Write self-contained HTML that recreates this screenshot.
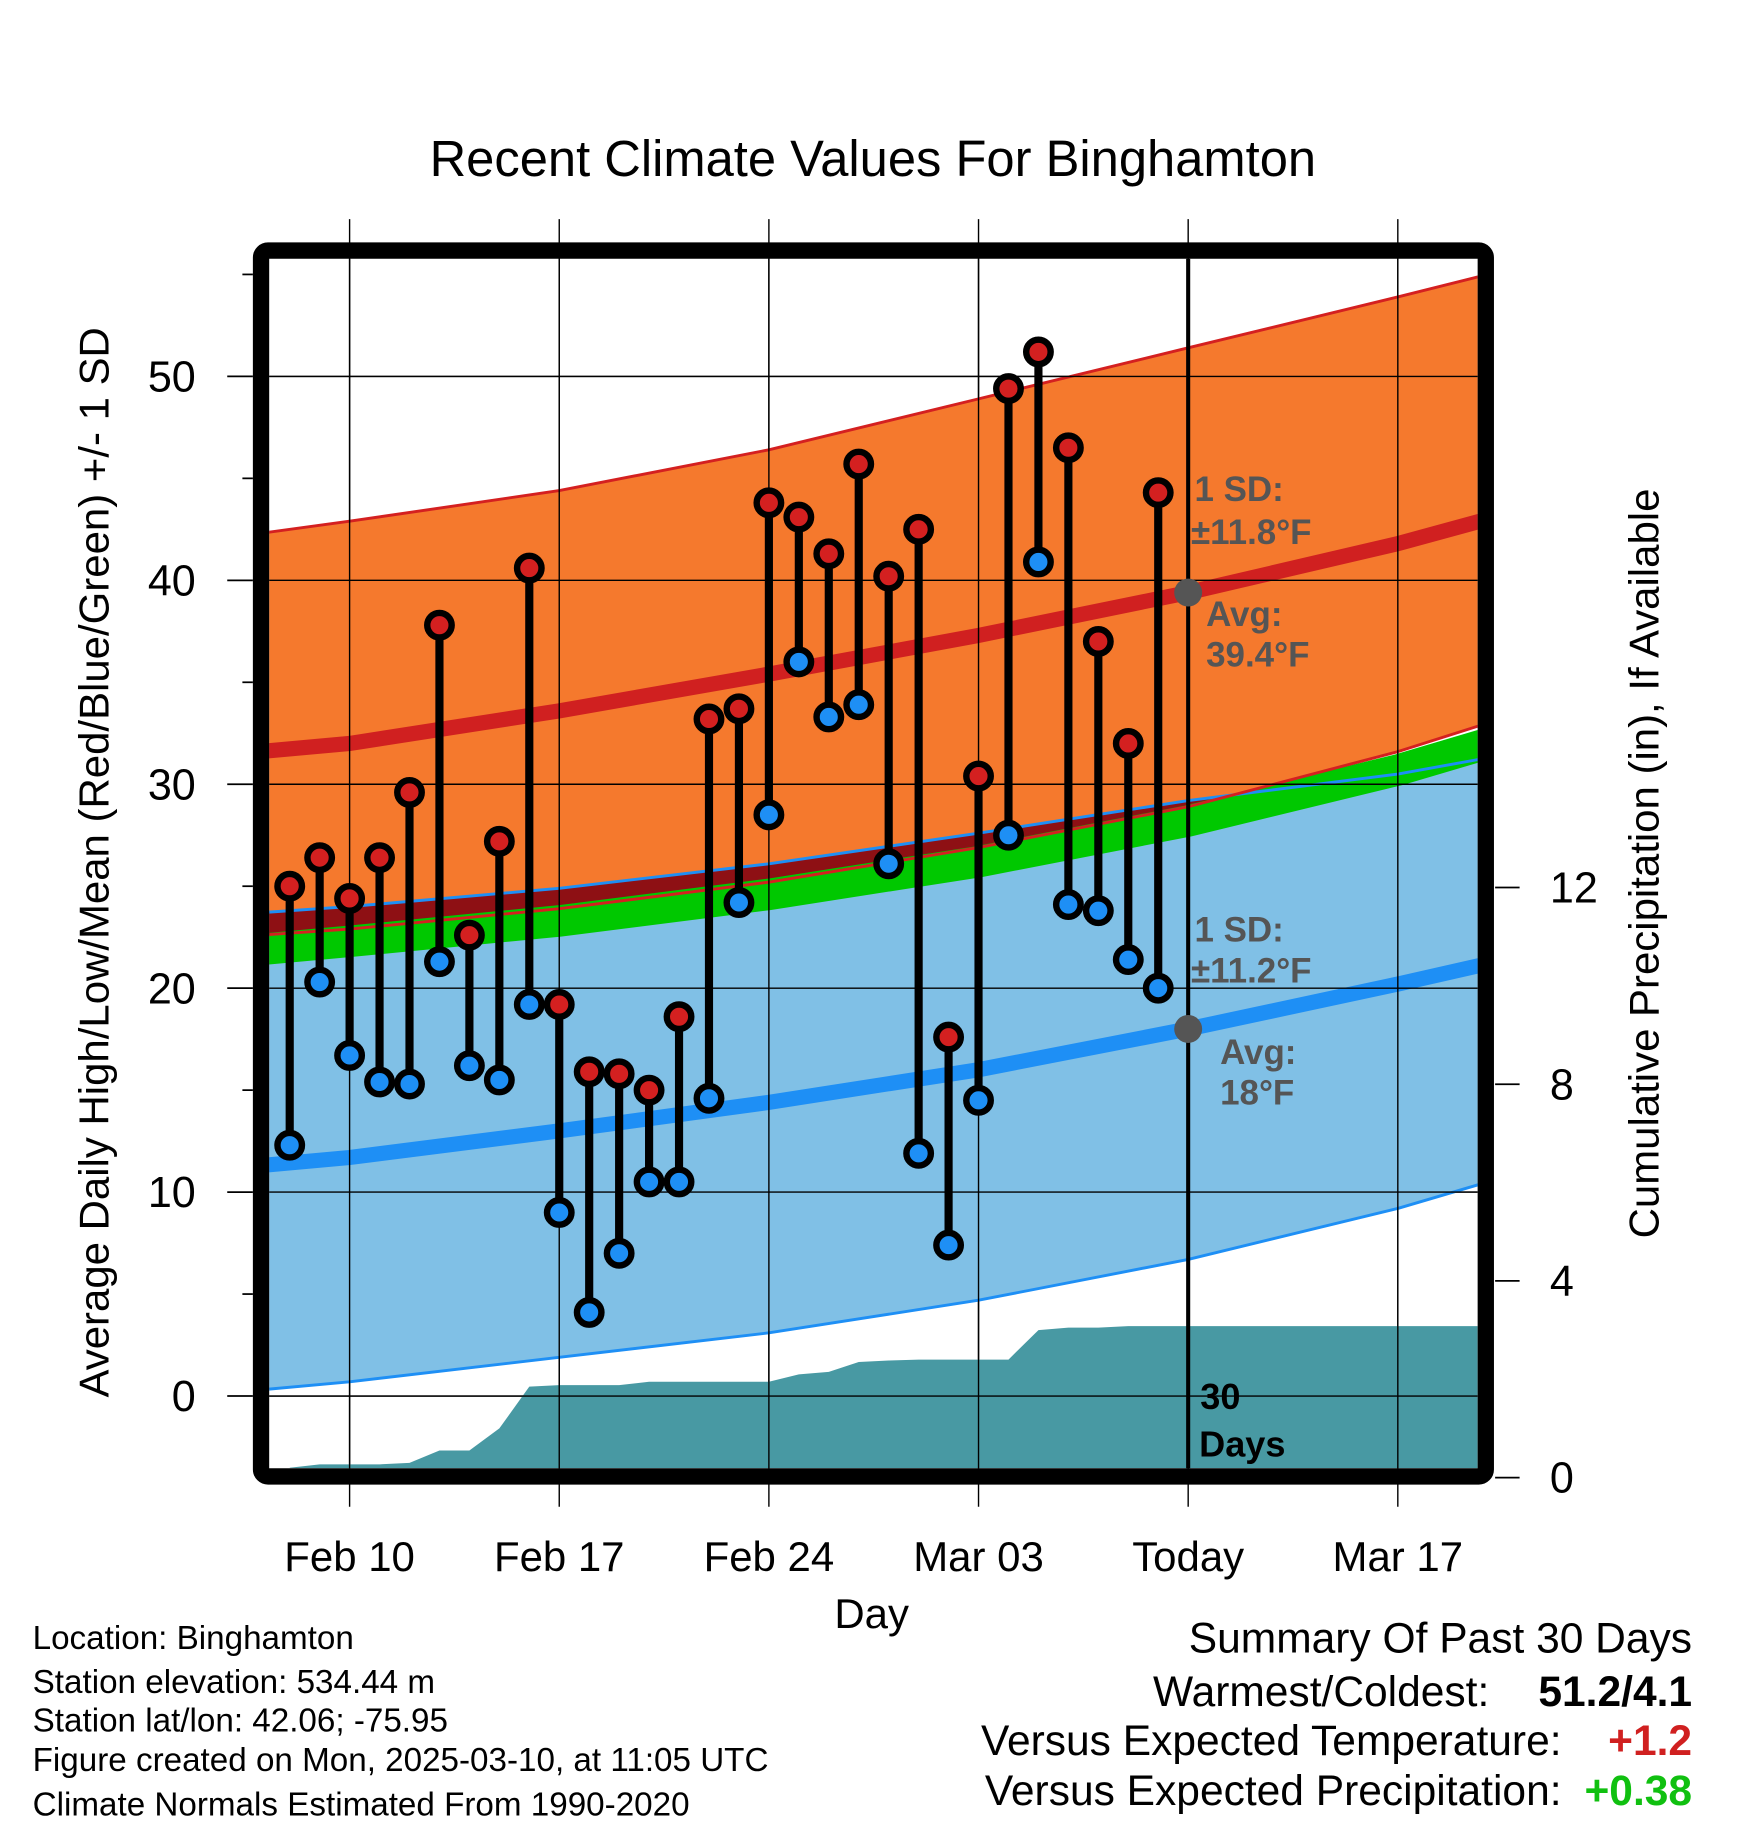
<!DOCTYPE html>
<html><head><meta charset="utf-8"><style>
html,body{margin:0;padding:0;background:#fff;}
svg{display:block;font-family:"Liberation Sans",Arial,sans-serif;}
</style></head><body>
<svg id="chart" width="1748" height="1828" viewBox="0 0 1500 1568.7" preserveAspectRatio="none" xmlns="http://www.w3.org/2000/svg">
<defs><clipPath id="plotclip"><rect x="231" y="222" width="1037" height="1038"/></clipPath></defs>
<text x="749" y="151" font-size="43.5" text-anchor="middle">Recent Climate Values For Binghamton</text>
<g id="grid"></g>
<g id="bands" clip-path="url(#plotclip)"></g>
<g id="marks"></g>
<g id="axes"></g>
<text transform="translate(93,740) rotate(-90)" font-size="36" text-anchor="middle">Average Daily High/Low/Mean (Red/Blue/Green) +/- 1 SD</text>
<text transform="translate(1423,741) rotate(-90)" font-size="36" text-anchor="middle">Cumulative Precipitation (in), If Available</text>
<text x="748" y="1397" font-size="36" text-anchor="middle">Day</text>
<g font-size="28.5">
<text x="28" y="1415">Location: Binghamton</text>
<text x="28" y="1453">Station elevation: 534.44 m</text>
<text x="28" y="1486">Station lat/lon: 42.06; -75.95</text>
<text x="28" y="1520">Figure created on Mon, 2025-03-10, at 11:05 UTC</text>
<text x="28" y="1558">Climate Normals Estimated From 1990-2020</text>
</g>
<g font-size="36.5">
<text x="1452" y="1418" text-anchor="end">Summary Of Past 30 Days</text>
<text x="1278" y="1464" text-anchor="end">Warmest/Coldest:</text>
<text x="1452" y="1464" text-anchor="end" font-weight="bold">51.2/4.1</text>
<text x="1340" y="1506" text-anchor="end">Versus Expected Temperature:</text>
<text x="1452" y="1506" text-anchor="end" font-weight="bold" fill="#d02020">+1.2</text>
<text x="1340" y="1549" text-anchor="end">Versus Expected Precipitation:</text>
<text x="1452" y="1549" text-anchor="end" font-weight="bold" fill="#10c010">+0.38</text>
</g>
</svg>
<script>
// days relative to Feb 10
const normDays = [-3, 0, 7, 14, 21, 28, 35, 38];
const highMean = [31.6, 32.0, 33.6, 35.4, 37.3, 39.4, 41.8, 43.0];
const highUpper = [42.3, 42.9, 44.4, 46.4, 48.9, 51.4, 53.9, 55.0];
const highLower = [22.6, 22.9, 23.9, 25.2, 26.9, 28.9, 31.6, 33.0];
const lowMean = [11.3, 11.7, 13.0, 14.4, 16.0, 18.0, 20.2, 21.2];
const lowUpper = [23.7, 24.0, 24.9, 26.1, 27.6, 29.2, 30.5, 31.3];
const lowLower = [0.3, 0.7, 1.9, 3.1, 4.7, 6.7, 9.2, 10.5];
const meanLine = [21.9, 22.3, 23.3, 24.6, 26.2, 28.2, 30.7, 32.0];
const obsDays = [-2,-1,0,1,2,3,4,5,6,7,8,9,10,11,12,13,14,15,16,17,18,19,20,21,22,23,24,25,26,27];
const obsHigh = [25,26.4,24.4,26.4,29.6,37.8,22.6,27.2,40.6,19.2,15.9,15.8,15.0,18.6,33.2,33.7,43.8,43.1,41.3,45.7,40.2,42.5,17.6,30.4,49.4,51.2,46.5,37.0,32.0,44.3];
const obsLow = [12.3,20.3,16.7,15.4,15.3,21.3,16.2,15.5,19.2,9.0,4.1,7.0,10.5,10.5,14.6,24.2,28.5,36.0,33.3,33.9,26.1,11.9,7.4,14.5,27.5,40.9,24.1,23.8,21.4,20.0];
const precip = [0.2,0.27,0.27,0.27,0.3,0.55,0.55,1.0,1.85,1.88,1.88,1.88,1.95,1.95,1.95,1.95,1.95,2.1,2.15,2.35,2.38,2.4,2.4,2.4,2.4,3.0,3.05,3.05,3.08,3.08];
const xTickDays = [0,7,14,21,28,35];
const xTickLabels = ["Feb 10","Feb 17","Feb 24","Mar 03","Today","Mar 17"];
const yTicks = [0,10,20,30,40,50];
const y2Ticks = [0,4,8,12];
const todayDay = 28;

const NS="http://www.w3.org/2000/svg";
const X0=231,X1=1268,Y0=222,Y1=1260;
const xs=d=>300+25.7*d;
const ys=v=>1198-17.5*v;
const yp=p=>1268-42.2*p;
function mk(tag,attrs,parent){const e=document.createElementNS(NS,tag);for(const k in attrs)e.setAttribute(k,attrs[k]);parent.appendChild(e);return e;}
function pts(arr){return normDays.map((d,i)=>xs(d).toFixed(1)+","+ys(arr[i]).toFixed(1));}
const grid=document.getElementById('grid'),bands=document.getElementById('bands'),marks=document.getElementById('marks'),axes=document.getElementById('axes');

let e;
e=mk('polygon',{points:pts(lowUpper).concat(pts(lowLower).reverse()).join(' '),fill:'#80c0e6'},bands);

e=mk('polygon',{points:pts(highUpper).concat(pts(highLower).reverse()).join(' '),fill:'#f5792d'},bands);

const ov=normDays.map((d,i)=>Math.min(highLower[i],lowUpper[i]));
e=mk('polygon',{points:pts(lowUpper).concat(pts(ov).reverse()).join(' '),fill:'#8e1014'},bands);

e=mk('polyline',{points:pts(meanLine).join(' '),fill:'none',stroke:'#00c800','stroke-width':27},bands);

e=mk('polyline',{points:pts(lowUpper).join(' '),fill:'none',stroke:'#1e8ff5','stroke-width':2.5},bands);

e=mk('polyline',{points:pts(lowLower).join(' '),fill:'none',stroke:'#1e8ff5','stroke-width':2.5},bands);

e=mk('polyline',{points:pts(highUpper).join(' '),fill:'none',stroke:'#d42020','stroke-width':2.5},bands);

e=mk('polyline',{points:pts(highLower).join(' '),fill:'none',stroke:'#d42020','stroke-width':2.5},bands);

e=mk('polyline',{points:pts(highMean).join(' '),fill:'none',stroke:'#d02020','stroke-width':13},bands);

e=mk('polyline',{points:pts(lowMean).join(' '),fill:'none',stroke:'#1e8ff5','stroke-width':13},bands);

let pp=[xs(obsDays[0])+","+Y1];
obsDays.forEach((d,i)=>{pp.push(xs(d)+","+yp(precip[i]));});
pp.push(X1+","+yp(precip[precip.length-1]));pp.push(X1+","+Y1);
e=mk('polygon',{points:pp.join(' '),fill:'#4899a3'},bands);


yTicks.forEach(v=>{e=mk('line',{x1:X0,x2:X1,y1:ys(v),y2:ys(v),stroke:'#000','stroke-width':1.2},grid);
});
xTickDays.forEach(d=>{e=mk('line',{x1:xs(d),x2:xs(d),y1:188,y2:1293,stroke:'#000','stroke-width':1.2},grid);
});
yTicks.forEach(v=>{e=mk('line',{x1:X0,x2:X1,y1:ys(v),y2:ys(v),stroke:'#000','stroke-width':1.2},bands);
});
xTickDays.forEach(d=>{e=mk('line',{x1:xs(d),x2:xs(d),y1:Y0,y2:Y1,stroke:'#000','stroke-width':1.2},bands);
});

e=mk('line',{x1:xs(todayDay),x2:xs(todayDay),y1:Y0,y2:Y1,stroke:'#000','stroke-width':3.5},marks);


obsDays.forEach((d,i)=>{
 e=mk('line',{x1:xs(d),x2:xs(d),y1:ys(obsHigh[i]),y2:ys(obsLow[i]),stroke:'#000','stroke-width':7},marks);
 
});
obsDays.forEach((d,i)=>{
 e=mk('circle',{cx:xs(d),cy:ys(obsHigh[i]),r:10.5,fill:'#d42020',stroke:'#000','stroke-width':5.5},marks);
 
 e=mk('circle',{cx:xs(d),cy:ys(obsLow[i]),r:10.5,fill:'#1e8ff5',stroke:'#000','stroke-width':5.5},marks);
 
});

const tx=xs(todayDay);
const hi=highMean[5], lo=lowMean[5];
e=mk('circle',{cx:tx,cy:ys(hi),r:12,fill:'#555'},marks);

e=mk('circle',{cx:tx,cy:ys(lo),r:12,fill:'#555'},marks);

function lab(x,y,txt,name,fill,size){const t=mk('text',{x:x,y:y,'font-size':size||30,'font-weight':'bold',fill:fill||'#555'},marks);t.textContent=txt;
return t;}
lab(1025,430,'1 SD:','high-sd-label');
lab(1022,467,'\u00b111.8\u00b0F','high-sd-value');
lab(1035,537,'Avg:','high-avg-label');
lab(1035,572,hi.toFixed(1)+'\u00b0F','high-avg-value');
lab(1025,808,'1 SD:','low-sd-label');
lab(1022,843,'\u00b111.2\u00b0F','low-sd-value');
lab(1047,913,'Avg:','low-avg-label');
lab(1047,948,Math.round(lo)+'\u00b0F','low-avg-value');
lab(1030,1209,'30','days-count','#000',31);
lab(1029,1250,'Days','days-label','#000',31);

e=mk('rect',{x:224,y:215,width:1051,height:1052,rx:6,fill:'none',stroke:'#000','stroke-width':14},axes);

yTicks.forEach(v=>{
 e=mk('line',{x1:195,x2:217,y1:ys(v),y2:ys(v),stroke:'#000','stroke-width':1.5},axes);
 
 const t=mk('text',{x:168,y:ys(v)+13,'font-size':37,'text-anchor':'end'},axes);t.textContent=v;
 
});
for(let v=5;v<=55;v+=10){e=mk('line',{x1:208,x2:217,y1:ys(v),y2:ys(v),stroke:'#000','stroke-width':1.5},axes);
 }
y2Ticks.forEach(p=>{
 e=mk('line',{x1:1283,x2:1304,y1:yp(p),y2:yp(p),stroke:'#000','stroke-width':1.5},axes);
 
 const t=mk('text',{x:1330,y:yp(p)+13,'font-size':37},axes);t.textContent=p;
 
});
xTickDays.forEach((d,i)=>{
 const t=mk('text',{x:xs(d),y:1348,'font-size':36,'text-anchor':'middle'},axes);t.textContent=xTickLabels[i];
 
});
</script>
</body></html>
